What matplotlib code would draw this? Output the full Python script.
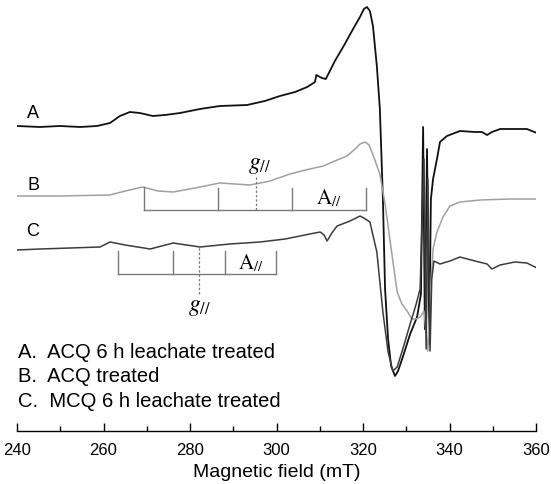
import matplotlib
matplotlib.use("Agg")
import matplotlib.pyplot as plt

plt.rcParams["font.family"] = ["Liberation Sans", "DejaVu Sans"]
plt.rcParams["mathtext.fontset"] = "stix"

# EPR spectra: field (mT) and signal (a.u.)
field_a = [240.0, 245.3, 249.9, 254.6, 258.5, 261.5, 263.8, 266.1, 268.4, 271.4,
           274.2, 277.7, 282.3, 286.9, 293.2, 297.3, 300.8, 304.3, 307.1, 308.9,
           309.2, 310.5, 311.4, 313.5, 315.8, 317.7, 319.3, 320.2, 320.9, 321.6,
           322.3, 323.2, 323.9, 324.6, 325.1, 325.8, 326.5, 327.4, 328.1, 329.2,
           330.9, 332.5, 333.4, 333.9, 334.3, 334.8, 335.3, 335.7, 336.2, 337.1,
           337.8, 339.4, 342.4, 345.9, 347.5, 348.7, 349.8, 351.7, 355.1, 357.9,
           360.2]
signal_a = [0, -1, 0, -1, 0, 3, 10, 14, 13, 10,
            11, 13, 17, 20, 21, 25, 30, 34, 39, 44,
            51, 48, 47, 65, 82, 97, 109, 117, 119, 115,
            100, 60, 17, -73, -163, -213, -240, -250, -245, -231,
            -208, -191, -168, -1, -203, -23, -218, -73, -53, -33,
            -16, -10, -5, -6, -6, -9, -6, -3, -3, -3,
            -7]

field_b = [240.0, 249.9, 261.5, 265.0, 269.1, 272.6, 276.1, 281.2, 286.9, 290.4,
           293.9, 298.5, 303.1, 307.7, 310.8, 313.5, 316.3, 318.2, 319.3, 320.5,
           321.4, 322.5, 323.9, 325.1, 326.2, 327.9, 329.0, 330.2, 331.3, 332.3,
           333.2, 334.1, 335.0, 335.5, 336.2, 337.1, 338.5, 340.1, 342.4, 347.1,
           354.0, 360.2]
signal_b = [0, 0, 1, 5, 9, 5, 4, 8, 13, 12,
            11, 15, 22, 27, 30, 35, 40, 47, 52, 54,
            51, 39, 22, -8, -43, -96, -108, -115, -123, -123,
            -121, -115, -155, -103, -53, -36, -21, -10, -6, -4,
            -3, -3]

field_c = [240.0, 245.3, 252.3, 259.2, 261.5, 265.0, 270.8, 276.1, 282.3, 289.2,
           296.2, 302.0, 307.7, 310.1, 311.0, 311.7, 312.8, 314.0, 317.0, 318.4,
           319.3, 320.2, 321.6, 323.2, 324.6, 325.8, 326.9, 327.9, 329.2, 330.9,
           332.3, 333.2, 334.1, 334.6, 335.0, 335.5, 335.9, 336.4, 337.8, 340.1,
           342.4, 345.9, 348.7, 349.8, 351.7, 355.1, 357.9, 360.2]
signal_c = [-3, -2, -1, 0, 5, 2, -2, 4, 0, 3,
            5, 8, 13, 15, 12, 6, 14, 21, 26, 29,
            31, 29, 25, -5, -65, -105, -124, -120, -102, -77,
            -57, -42, 88, -102, 68, -104, -32, -14, -17, -14,
            -10, -14, -17, -22, -18, -15, -16, -21]

offsets = [305, 235, 184]
colors = ["#111111", "#a0a0a0", "#3c3c3c"]
widths = [1.3, 1.1, 1.1]
curve_names = ["A", "B", "C"]
legend_lines = ["A.  ACQ 6 h leachate treated",
                "B.  ACQ treated",
                "C.  MCQ 6 h leachate treated"]

# hyperfine stick diagrams (mT)
sticks_b = [269.4, 286.5, 303.6, 320.6]
g_par_b = 295.3
sticks_c = [263.4, 276.1, 288.1, 299.9]
g_par_c = 282.1

fig = plt.figure(figsize=(5.51, 4.85), dpi=100)
ax = fig.add_axes([17 / 551, 53 / 485, 519 / 551, 432 / 485])

spectra = [(field_a, signal_a), (field_b, signal_b), (field_c, signal_c)]
for (fx, sy), off, col, w in zip(spectra, offsets, colors, widths):
    ax.plot(fx, [s + off for s in sy], color=col, lw=w)

# stick diagram for B
stick_col = "#7a7a7a"
ax.plot([sticks_b[0], sticks_b[-1]], [221, 221], color=stick_col, lw=1)
for i, s in enumerate(sticks_b):
    ax.plot([s, s], [221, 244 if i == 0 else 243], color=stick_col, lw=1)
ax.plot([g_par_b, g_par_b], [221, 255], color=stick_col, lw=0.9, ls=(0, (2, 1.5)))
ax.text(g_par_b + 0.8, 256, r"$g_{//}$", fontsize=17, ha="center", va="bottom")
ax.text((sticks_b[2] + sticks_b[3]) / 2, 234, r"$\mathrm{A}_{//}$", fontsize=15,
        ha="center", va="center")

# stick diagram for C
ax.plot([sticks_c[0], sticks_c[-1]], [157, 157], color=stick_col, lw=1)
for s in sticks_c:
    ax.plot([s, s], [157, 180], color=stick_col, lw=1)
ax.plot([g_par_c, g_par_c], [137, 185], color=stick_col, lw=0.9, ls=(0, (2, 1.5)))
ax.text(g_par_c, 136, r"$g_{//}$", fontsize=17, ha="center", va="top")
ax.text((sticks_c[2] + sticks_c[3]) / 2, 169, r"$\mathrm{A}_{//}$", fontsize=15,
        ha="center", va="center")

# curve labels
for name, y in zip(curve_names, [319, 247, 200]):
    ax.text(243.7, y, name, fontsize=13, ha="center", va="center")

for txt, y in zip(legend_lines, [80, 55, 30]):
    ax.text(240.3, y, txt, fontsize=14.5, ha="left", va="center")

ax.set_xlim(240, 360)
ax.set_ylim(0, 432)
for side in ["left", "right", "top"]:
    ax.spines[side].set_visible(False)
ax.spines["bottom"].set_linewidth(1.0)
ax.set_yticks([])
ax.set_xticks([240, 260, 280, 300, 320, 340, 360])
ax.set_xticks([250, 270, 290, 310, 330, 350], minor=True)
ax.tick_params(axis="x", which="major", direction="in", length=6, width=1,
               labelsize=12, pad=8)
ax.tick_params(axis="x", which="minor", direction="in", length=3.5, width=1)
ax.set_xlabel("Magnetic field (mT)", fontsize=14, labelpad=4)
ax.patch.set_visible(False)

fig.savefig("out.png", dpi=100)
